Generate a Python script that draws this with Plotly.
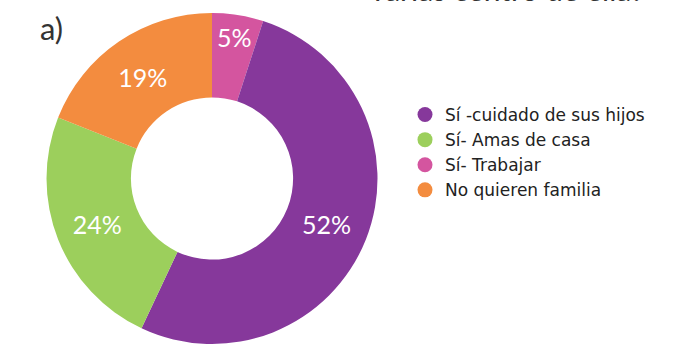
import plotly.graph_objects as go

# Survey answers (share of respondents, %)
legend_labels = ["Sí -cuidado de sus hijos", "Sí- Amas de casa", "Sí- Trabajar", "No quieren familia"]
legend_colors = ["#86389B", "#9CCF5C", "#D4559F", "#F38C3F"]

# Slice order around the ring, clockwise from 12 o'clock
slice_labels = ["Sí- Trabajar", "Sí -cuidado de sus hijos", "Sí- Amas de casa", "No quieren familia"]
slice_values = [5, 52, 24, 19]
slice_colors = ["#D4559F", "#86389B", "#9CCF5C", "#F38C3F"]

FONT = "Lato"
LEGEND_FONT = "DejaVu Sans"

fig = go.Figure()

fig.add_trace(go.Pie(
    labels=slice_labels,
    values=slice_values,
    marker=dict(colors=slice_colors, line=dict(width=0)),
    hole=0.49,
    sort=False,
    direction="clockwise",
    rotation=0,
    texttemplate="%{value}%",
    textposition="inside",
    insidetextorientation="horizontal",
    textfont=dict(family=FONT, size=25, color="white"),
    domain=dict(x=[46 / 686, 378 / 686], y=[2 / 346, 333 / 346]),
    showlegend=False,
    hoverinfo="label+percent",
))

# Legend entries in the survey's own order
for lab, col in zip(legend_labels, legend_colors):
    fig.add_trace(go.Scatter(
        x=[None], y=[None], mode="markers", name=lab,
        marker=dict(symbol="circle", size=15, color=col),
    ))

fig.update_layout(
    width=686, height=346,
    margin=dict(l=0, r=0, t=0, b=0),
    paper_bgcolor="white", plot_bgcolor="white",
    xaxis=dict(visible=False), yaxis=dict(visible=False),
    uniformtext=dict(minsize=25, mode="show"),
    legend=dict(
        x=405 / 686, xanchor="left",
        y=1 - 97 / 346, yanchor="top",
        font=dict(family=LEGEND_FONT, size=17, color="#222222"),
        itemsizing="trace",
        bgcolor="rgba(0,0,0,0)",
    ),
    annotations=[
        dict(text="a)", x=38 / 686, y=1 - 28 / 346, xref="paper", yref="paper",
             xanchor="left", yanchor="middle", showarrow=False,
             font=dict(family=FONT, size=31, color="#333333")),
        dict(text="varias centro de ella?", x=646 / 686, y=1 - 9 / 346, xref="paper", yref="paper",
             xanchor="right", yanchor="bottom", showarrow=False,
             font=dict(family=FONT, size=30, color="#333333")),
    ],
)

fig.write_html("out.html")
